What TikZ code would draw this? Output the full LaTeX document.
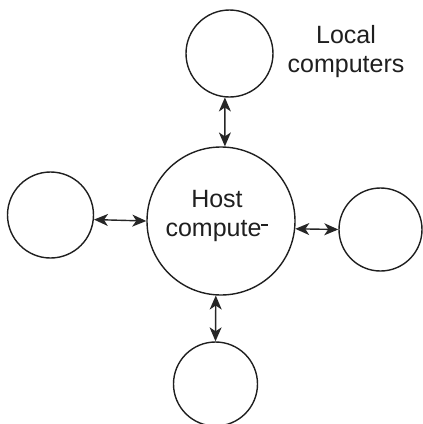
\documentclass[tikz,border=0pt]{standalone}
\usepackage{fontspec}
\setmainfont{Liberation Sans}
\usetikzlibrary{arrows.meta}
\begin{document}
\begin{tikzpicture}[x=1pt,y=-1pt,
  >={Stealth[length=14pt,width=12pt,inset=4pt]},
  pc/.style={draw=black!88, line width=1.4pt, circle, inner sep=0pt},
  link/.style={draw=black!85, fill=black!85, line width=1.4pt, <->},
  lbl/.style={font=\fontsize{25}{29}\selectfont, text=black!88, align=center}]
  \useasboundingbox (0,0) rectangle (423,424);
  % host in the middle, four local machines around it
  \node[pc, minimum size=148pt] (host) at (221,221) {};
  \node[pc, minimum size=87pt] (top) at (229.5,53.5) {};
  \node[pc, minimum size=86pt] (left) at (50.5,215) {};
  \node[pc, minimum size=83pt] (right) at (380.5,229.5) {};
  \node[pc, minimum size=84pt] (bottom) at (215.5,384) {};
  % labels
  \node[lbl] (hostlbl) at (217,216) {Host\\compute\rule[0.42em]{0.28em}{0.09em}};
  \node[lbl] (locallbl) at (346,52) {Local\\computers};
  % two-way links
  \draw[link] (top.-96) -- (host.87);
  \draw[link] (left.-6.5) -- (host.180);
  \draw[link] (host.-6) -- (right.180);
  \draw[link] (host.-94.6) -- (bottom.90);
\end{tikzpicture}
\end{document}
